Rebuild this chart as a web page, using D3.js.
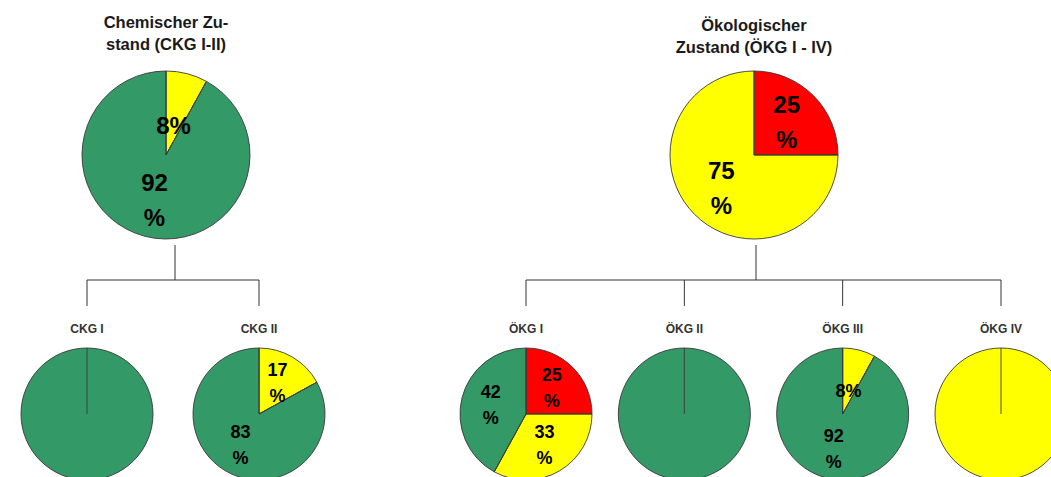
<!DOCTYPE html>
<html lang="de">
<head>
<meta charset="UTF-8">
<title>Chemischer und ökologischer Zustand</title>
<script src="https://cdnjs.cloudflare.com/ajax/libs/d3/7.9.0/d3.min.js"></script>
<style>
    body { margin: 0; background: #fff; }
    svg { display: block; font-family: "Liberation Sans", Arial, sans-serif; }
    .title { font-size: 16.5px; font-weight: bold; fill: #1a1a1a; }
    .sub { font-size: 12px; font-weight: bold; fill: #333; }
    .lbl { font-weight: bold; fill: #000; }
    .conn { stroke: #333; stroke-width: 1; fill: none; }
</style>
</head>
<body>
<svg id="chart" width="1051" height="477"></svg>
<script>
// Reihenfolge der Klassen in jeder Torte: rot, gelb, grün
const klassen = ["rot", "gelb", "grün"];
const klassenFarben = ["#ff0000", "#ffff00", "#339966"];

const chemTitel = ["Chemischer Zu-", "stand (CKG I-II)"];
const chemGesamt = [0, 8, 92];
const ckgLabels = ["CKG I", "CKG II"];
const ckgWerte = [[0, 0, 100], [0, 17, 83]];

const oekoTitel = ["Ökologischer", "Zustand (ÖKG I - IV)"];
const oekoGesamt = [25, 75, 0];
const oekgLabels = ["ÖKG I", "ÖKG II", "ÖKG III", "ÖKG IV"];
const oekgWerte = [[25, 33, 42], [0, 0, 100], [0, 8, 92], [0, 100, 0]];

const svg = d3.select("#chart");
const farbe = d3.scaleOrdinal().domain(klassen).range(klassenFarben);
const pie = d3.pie().sort(null).value(d => d.v);

function drawPie(cx, cy, r, werte, fontSize) {
    const g = svg.append("g").attr("transform", `translate(${cx},${cy})`);
    const data = klassen.map((k, i) => ({k: k, v: werte[i]})).filter(d => d.v > 0);
    const arcs = pie(data);
    const arc = d3.arc().innerRadius(0).outerRadius(r);
    g.selectAll("path").data(arcs).enter().append("path")
        .attr("d", arc)
        .attr("fill", d => farbe(d.data.k))
        .attr("stroke", "#3a3a3a")
        .attr("stroke-width", 0.9);
    // Segmentgrenze (auch bei 100 %-Torten sichtbar)
    g.selectAll("line").data(arcs).enter().append("line")
        .attr("x1", 0).attr("y1", 0)
        .attr("x2", d => r * Math.sin(d.startAngle))
        .attr("y2", d => -r * Math.cos(d.startAngle))
        .attr("stroke", "#3a3a3a").attr("stroke-width", 0.9);

    arcs.filter(d => d.data.v < 100).forEach(d => {
        const mid = (d.startAngle + d.endAngle) / 2;
        const klein = d.data.v < 10;
        const rr = r * (klein ? 0.36 : 0.55);
        const x = rr * Math.sin(mid), y = -rr * Math.cos(mid);
        if (klein) {
            g.append("text").attr("class", "lbl")
                .attr("x", x).attr("y", y)
                .attr("text-anchor", "middle").attr("dominant-baseline", "central")
                .style("font-size", fontSize + "px")
                .text(d.data.v + "%");
        } else {
            const gap = fontSize * 1.45;
            g.append("text").attr("class", "lbl")
                .attr("x", x).attr("y", y - gap / 2)
                .attr("text-anchor", "middle").attr("dominant-baseline", "central")
                .style("font-size", fontSize + "px")
                .text(d.data.v);
            g.append("text").attr("class", "lbl")
                .attr("x", x).attr("y", y + gap / 2)
                .attr("text-anchor", "middle").attr("dominant-baseline", "central")
                .style("font-size", fontSize + "px")
                .text("%");
        }
    });
}

function drawGruppe(titel, titelY, gesamt, labels, werte, topX, stemX, childRange) {
    const topY = 155, topR = 84, barY = 280, childY = 414, childR = 66;
    const x = d3.scalePoint().domain(labels).range(childRange);

    titel.forEach((t, i) => {
        svg.append("text").attr("class", "title")
            .attr("x", topX).attr("y", titelY + i * 22)
            .attr("text-anchor", "middle").text(t);
    });
    drawPie(topX, topY, topR, gesamt, 24);

    // Verbindungslinien
    svg.append("line").attr("class", "conn")
        .attr("x1", stemX).attr("x2", stemX).attr("y1", topY + topR + 6).attr("y2", barY);
    svg.append("line").attr("class", "conn")
        .attr("x1", childRange[0]).attr("x2", childRange[1]).attr("y1", barY).attr("y2", barY);
    labels.forEach(l => {
        svg.append("line").attr("class", "conn")
            .attr("x1", x(l)).attr("x2", x(l)).attr("y1", barY).attr("y2", 306);
        svg.append("text").attr("class", "sub")
            .attr("x", x(l)).attr("y", 333)
            .attr("text-anchor", "middle").text(l);
    });
    labels.forEach((l, i) => drawPie(x(l), childY, childR, werte[i], 18));
}

drawGruppe(chemTitel, 28, chemGesamt, ckgLabels, ckgWerte, 166, 175, [87, 259]);
drawGruppe(oekoTitel, 31, oekoGesamt, oekgLabels, oekgWerte, 754, 756, [526, 1001]);
</script>
</body>
</html>
